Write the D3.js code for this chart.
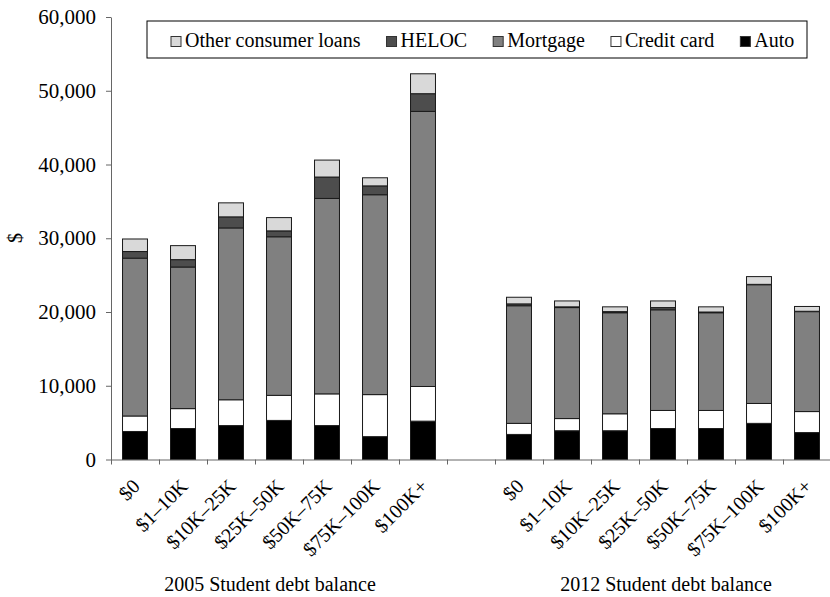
<!DOCTYPE html>
<html>
<head>
  <meta charset="utf-8" />
  <title>Consumer debt by student debt balance</title>
  <script src="https://d3js.org/d3.v7.min.js"></script>
  <style>
    body { margin: 0; background: #fff; }
    text { font-family: "Liberation Serif", "Times New Roman", serif; fill: #000; }
  </style>
</head>
<body>
  <script>
    // categories (student debt balance)
    const categories = ["$0", "$1–10K", "$10K–25K", "$25K–50K", "$50K–75K", "$75K–100K", "$100K+"];
    const years = ["2005", "2012"];

    // series values, $ per borrower
    const auto2005 = [3800, 4200, 4600, 5300, 4600, 3100, 5200];
    const credit2005 = [2100, 2700, 3500, 3400, 4300, 5700, 4700];
    const mortgage2005 = [21400, 19200, 23300, 21500, 26500, 27100, 37300];
    const heloc2005 = [900, 1000, 1500, 800, 2900, 1200, 2400];
    const other2005 = [1700, 1900, 1900, 1800, 2300, 1100, 2700];

    const auto2012 = [3400, 3900, 3900, 4200, 4200, 4900, 3650];
    const credit2012 = [1500, 1650, 2300, 2450, 2450, 2700, 2850];
    const mortgage2012 = [15950, 15050, 13700, 13650, 13250, 16100, 13550];
    const heloc2012 = [250, 100, 150, 300, 100, 50, 50];
    const other2012 = [900, 800, 650, 900, 700, 1050, 650];

    const yTicks = [0, 10000, 20000, 30000, 40000, 50000, 60000];

    const seriesKeys = ["auto", "credit", "mortgage", "heloc", "other"];
    const seriesNames = { other: "Other consumer loans", heloc: "HELOC", mortgage: "Mortgage", credit: "Credit card", auto: "Auto" };
    const colors = { auto: "#000000", credit: "#ffffff", mortgage: "#808080", heloc: "#4d4d4d", other: "#d9d9d9" };
    const legendOrder = ["other", "heloc", "mortgage", "credit", "auto"];

    // table for d3.stack, one row per bar, with an empty slot between the years
    const values = {
      "2005": { auto: auto2005, credit: credit2005, mortgage: mortgage2005, heloc: heloc2005, other: other2005 },
      "2012": { auto: auto2012, credit: credit2012, mortgage: mortgage2012, heloc: heloc2012, other: other2012 }
    };
    let rows = [];
    years.forEach((yr, gi) => {
      if (gi > 0) rows.push({ key: "gap" + gi, label: "", empty: true, auto: 0, credit: 0, mortgage: 0, heloc: 0, other: 0 });
      categories.forEach((c, i) => {
        let r = { key: yr + "|" + c, label: c, year: yr };
        seriesKeys.forEach(k => r[k] = values[yr][k][i]);
        rows.push(r);
      });
    });

    let width = 830;
    let height = 597;
    let plotLeft = 111, plotRight = 831, plotTop = 17, plotBottom = 459.5;
    const serif = '"Liberation Serif", "Times New Roman", serif';

    let svg = d3.select("body")
      .append("svg")
      .attr("width", width)
      .attr("height", height);

    let x = d3.scaleBand()
      .domain(rows.map(d => d.key))
      .range([plotLeft, plotRight])
      .padding(0);
    let y = d3.scaleLinear()
      .domain([0, 60000])
      .range([plotBottom, plotTop]);
    let barW = x.bandwidth() * 0.52;

    // bars
    let stacked = d3.stack().keys(seriesKeys)(rows.filter(d => !d.empty));
    svg.append("g")
      .selectAll("g")
      .data(stacked)
      .join("g")
      .attr("fill", d => colors[d.key])
      .selectAll("rect")
      .data(d => d)
      .join("rect")
      .attr("x", d => x(d.data.key) + (x.bandwidth() - barW) / 2)
      .attr("y", d => y(d[1]))
      .attr("width", barW)
      .attr("height", d => y(d[0]) - y(d[1]))
      .attr("stroke", "#1a1a1a")
      .attr("stroke-width", 1);

    // y axis
    let axisY = d3.axisLeft(y)
      .tickValues(yTicks)
      .tickSize(5)
      .tickSizeOuter(0)
      .tickPadding(10)
      .tickFormat(d3.format(","));
    let gy = svg.append("g")
      .attr("transform", `translate(${plotLeft}, 0)`)
      .call(axisY);
    gy.selectAll("text").style("font-size", "21px").style("font-family", serif);
    gy.selectAll("line, path").attr("stroke", "#666");

    // x axis: tick marks between categories, Excel style
    let xi = d3.scaleLinear().domain([0, rows.length]).range([plotLeft, plotRight]);
    let gx = svg.append("g")
      .attr("transform", `translate(0, ${plotBottom})`)
      .call(d3.axisBottom(xi).tickValues(d3.range(rows.length + 1)).tickSize(5).tickSizeOuter(0).tickFormat(""));
    gx.selectAll("line, path").attr("stroke", "#666");

    svg.append("g")
      .selectAll("text")
      .data(rows.filter(d => !d.empty))
      .join("text")
      .attr("transform", d => `translate(${x(d.key) + x.bandwidth() / 2 + 6}, ${plotBottom + 28}) rotate(-45)`)
      .attr("text-anchor", "end")
      .style("font-size", "20px")
      .style("font-family", serif)
      .text(d => d.label);

    // group titles
    const titleShift = [-9, 3];
    years.forEach((yr, gi) => {
      let keys = rows.filter(d => d.year === yr).map(d => d.key);
      let cx = (x(keys[0]) + x(keys[keys.length - 1]) + x.bandwidth()) / 2 + titleShift[gi];
      svg.append("text")
        .attr("x", cx)
        .attr("y", 591)
        .attr("text-anchor", "middle")
        .style("font-size", "20px")
        .style("font-family", serif)
        .text(yr + " Student debt balance");
    });

    // y title
    svg.append("text")
      .attr("transform", "translate(22, 238) rotate(-90)")
      .attr("text-anchor", "middle")
      .style("font-size", "20px")
      .style("font-family", serif)
      .text("$");

    // legend
    let lg = svg.append("g");
    lg.append("rect")
      .attr("x", 147).attr("y", 21)
      .attr("width", 660).attr("height", 37)
      .attr("fill", "#fff")
      .attr("stroke", "#000");
    let lx = 171;
    legendOrder.forEach(k => {
      lg.append("rect")
        .attr("x", lx).attr("y", 36.5)
        .attr("width", 10).attr("height", 10)
        .attr("fill", colors[k])
        .attr("stroke", "#333");
      let t = lg.append("text")
        .attr("x", lx + 14).attr("y", 47)
        .style("font-size", "20px")
        .style("font-family", serif)
        .text(seriesNames[k]);
      lx += 14 + t.node().getComputedTextLength() + 26;
    });
  </script>
</body>
</html>
